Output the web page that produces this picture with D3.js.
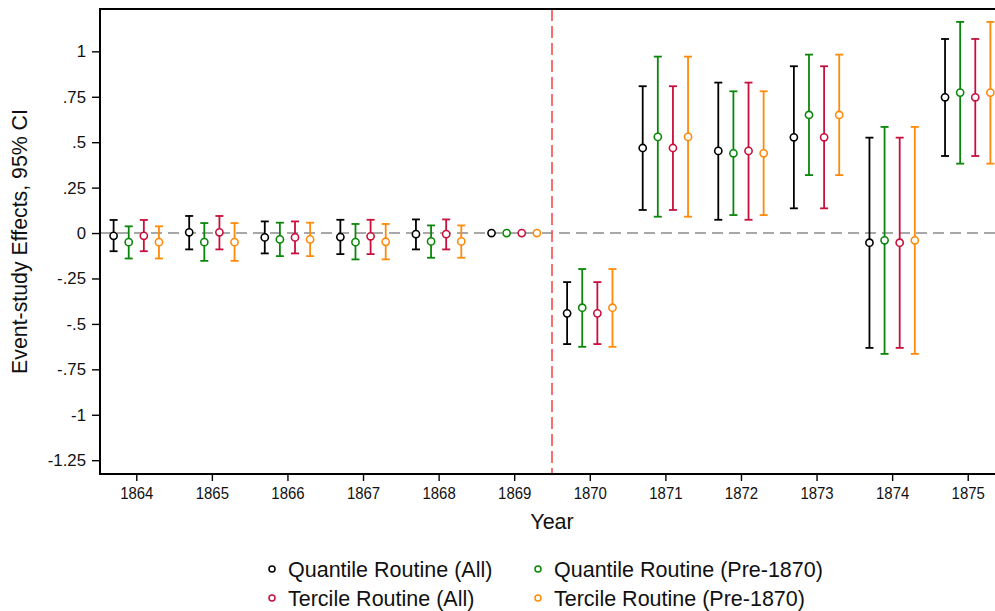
<!DOCTYPE html>
<html>
<head>
<meta charset="utf-8">
<script src="https://cdn.jsdelivr.net/npm/d3@7"></script>
<style>
    body { margin: 0; background: #fff; }
    svg { display: block; font-family: "Liberation Sans", Arial, Helvetica, sans-serif; }
</style>
</head>
<body>
<svg id="chart"></svg>
<script>
// years on the x axis
const years = [1864, 1865, 1866, 1867, 1868, 1869, 1870, 1871, 1872, 1873, 1874, 1875];

// point estimates and 95% CI bounds per series (1869 is the omitted base year)
const quantAllEst = [-0.015, 0.004, -0.024, -0.022, -0.006, 0, -0.442, 0.468, 0.452, 0.527, -0.053, 0.747];
const quantAllLo  = [-0.100, -0.090, -0.112, -0.116, -0.090, null, -0.611, 0.127, 0.073, 0.136, -0.632, 0.424];
const quantAllHi  = [0.072, 0.094, 0.064, 0.073, 0.075, null, -0.270, 0.808, 0.828, 0.918, 0.525, 1.068];

const quantPreEst = [-0.050, -0.050, -0.035, -0.050, -0.046, 0, -0.411, 0.529, 0.439, 0.650, -0.040, 0.773];
const quantPreLo  = [-0.140, -0.153, -0.127, -0.145, -0.136, null, -0.626, 0.090, 0.099, 0.319, -0.665, 0.382];
const quantPreHi  = [0.037, 0.055, 0.057, 0.050, 0.042, null, -0.198, 0.971, 0.780, 0.982, 0.584, 1.162];

const tercAllEst = [-0.015, 0.004, -0.024, -0.018, -0.006, 0, -0.442, 0.468, 0.452, 0.527, -0.053, 0.747];
const tercAllLo  = [-0.100, -0.090, -0.112, -0.116, -0.090, null, -0.611, 0.127, 0.073, 0.136, -0.632, 0.424];
const tercAllHi  = [0.072, 0.094, 0.064, 0.073, 0.075, null, -0.270, 0.808, 0.828, 0.918, 0.525, 1.068];

const tercPreEst = [-0.050, -0.050, -0.035, -0.048, -0.046, 0, -0.411, 0.529, 0.439, 0.650, -0.040, 0.773];
const tercPreLo  = [-0.140, -0.153, -0.127, -0.145, -0.136, null, -0.626, 0.090, 0.099, 0.319, -0.665, 0.382];
const tercPreHi  = [0.037, 0.055, 0.057, 0.050, 0.042, null, -0.198, 0.971, 0.780, 0.982, 0.584, 1.162];

const seriesNames = ['Quantile Routine (All)', 'Quantile Routine (Pre-1870)', 'Tercile Routine (All)', 'Tercile Routine (Pre-1870)'];
const seriesOffsets = [-0.3, -0.1, 0.1, 0.3];

const yTicks = [1, 0.75, 0.5, 0.25, 0, -0.25, -0.5, -0.75, -1, -1.25];
const yTickLabels = ['1', '.75', '.5', '.25', '0', '-.25', '-.5', '-.75', '-1', '-1.25'];

const treatmentLine = 1869.5;

const config = {
    width: 995,
    height: 611,
    margin: { top: 9, right: -9, bottom: 137, left: 100 },
    colours: ['#000000', '#0a870a', '#c8103c', '#ff8a0a'],
    font: '"Liberation Sans", Arial, Helvetica, sans-serif',
    capHalf: 4,
    radius: 3.6
};

const series = [
    { est: quantAllEst, lo: quantAllLo, hi: quantAllHi },
    { est: quantPreEst, lo: quantPreLo, hi: quantPreHi },
    { est: tercAllEst, lo: tercAllLo, hi: tercAllHi },
    { est: tercPreEst, lo: tercPreLo, hi: tercPreHi }
].map((s, i) => ({
    name: seriesNames[i],
    colour: config.colours[i],
    offset: seriesOffsets[i],
    points: years.map((yr, j) => ({ year: yr, est: s.est[j], lo: s.lo[j], hi: s.hi[j] }))
}));

const svg = d3.select('#chart')
    .attr('width', config.width)
    .attr('height', config.height);

const innerW = config.width - config.margin.left - config.margin.right;
const innerH = config.height - config.margin.top - config.margin.bottom;

const xScale = d3.scaleLinear()
    .domain([1863.52, 1875.48])
    .range([0, innerW]);

const yScale = d3.scaleLinear()
    .domain([-1.326, 1.233])
    .range([innerH, 0]);

const chart = svg.append('g')
    .attr('transform', `translate(${config.margin.left},${config.margin.top})`);

// zero reference line
chart.append('line')
    .attr('x1', 0).attr('x2', innerW)
    .attr('y1', yScale(0)).attr('y2', yScale(0))
    .attr('stroke', '#8c8c8c')
    .attr('stroke-width', 1.6)
    .attr('stroke-dasharray', '11,6');

// treatment year line
chart.append('line')
    .attr('x1', xScale(treatmentLine)).attr('x2', xScale(treatmentLine))
    .attr('y1', 0).attr('y2', innerH)
    .attr('stroke', '#ff4a4a')
    .attr('stroke-width', 1.6)
    .attr('stroke-dasharray', '12,5');

// error bars and points
const groups = chart.selectAll('.series')
    .data(series)
    .join('g')
    .attr('class', 'series')
    .attr('stroke', d => d.colour);

groups.each(function (s) {
    const g = d3.select(this);
    const withCI = s.points.filter(p => p.lo !== null);
    const px = p => xScale(p.year + s.offset);

    g.selectAll('.ci')
        .data(withCI)
        .join('line')
        .attr('class', 'ci')
        .attr('x1', px).attr('x2', px)
        .attr('y1', p => yScale(p.lo)).attr('y2', p => yScale(p.hi))
        .attr('stroke-width', 1.8);

    ['lo', 'hi'].forEach(k => {
        g.selectAll('.cap-' + k)
            .data(withCI)
            .join('line')
            .attr('class', 'cap-' + k)
            .attr('x1', p => px(p) - config.capHalf).attr('x2', p => px(p) + config.capHalf)
            .attr('y1', p => yScale(p[k])).attr('y2', p => yScale(p[k]))
            .attr('stroke-width', 1.8);
    });

    g.selectAll('circle')
        .data(s.points)
        .join('circle')
        .attr('cx', px)
        .attr('cy', p => yScale(p.est))
        .attr('r', config.radius)
        .attr('fill', '#fff')
        .attr('stroke-width', 1.6);
});

// axes
const yAxis = d3.axisLeft(yScale)
    .tickValues(yTicks)
    .tickFormat((d, i) => yTickLabels[i])
    .tickSize(8)
    .tickPadding(6);

const xAxis = d3.axisBottom(xScale)
    .tickValues(years)
    .tickFormat(d => d)
    .tickSize(7)
    .tickPadding(6);

const yAxisG = chart.append('g')
    .call(yAxis)
    .attr('font-family', config.font)
    .attr('font-size', 16.8);
yAxisG.select('.domain').remove();
yAxisG.selectAll('line').attr('stroke-width', 1.4);
yAxisG.selectAll('text').attr('fill', '#111');

const xAxisG = chart.append('g')
    .attr('transform', `translate(0,${innerH})`)
    .call(xAxis)
    .attr('font-family', config.font)
    .attr('font-size', 17);
xAxisG.select('.domain').remove();
xAxisG.selectAll('line').attr('stroke-width', 1.4);
xAxisG.selectAll('text')
    .attr('fill', '#111')
    .attr('transform', 'scale(0.88,1)');

// plot frame
chart.append('rect')
    .attr('x', 0).attr('y', 0)
    .attr('width', innerW).attr('height', innerH)
    .attr('fill', 'none')
    .attr('stroke', '#000')
    .attr('stroke-width', 2);

// axis titles
svg.append('text')
    .attr('transform', `translate(27,${config.margin.top + innerH / 2}) rotate(-90)`)
    .attr('text-anchor', 'middle')
    .attr('font-size', '21.3px')
    .attr('fill', '#111')
    .text('Event-study Effects, 95% CI');

svg.append('text')
    .attr('x', config.margin.left + innerW / 2)
    .attr('y', 529)
    .attr('text-anchor', 'middle')
    .attr('font-size', '21.5px')
    .attr('fill', '#111')
    .text('Year');

// legend, 2 x 2
const legendPos = [[272, 569], [538, 569], [272, 598], [538, 598]];
const legend = svg.selectAll('.legend-item')
    .data(series)
    .join('g')
    .attr('class', 'legend-item')
    .attr('transform', (d, i) => `translate(${legendPos[i][0]},${legendPos[i][1]})`);

legend.append('circle')
    .attr('r', 3)
    .attr('fill', '#fff')
    .attr('stroke', d => d.colour)
    .attr('stroke-width', 1.5);

legend.append('text')
    .attr('x', 16)
    .attr('y', 7.5)
    .attr('font-size', '21.5px')
    .attr('fill', '#111')
    .text(d => d.name);
</script>
</body>
</html>
